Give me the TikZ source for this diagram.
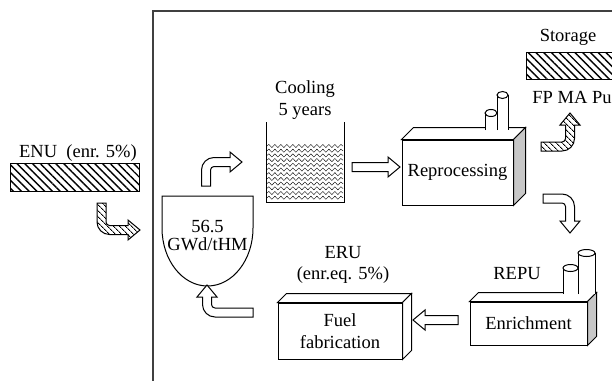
\documentclass[tikz,border=0pt]{standalone}
\usepackage{fontspec}
\setmainfont{Liberation Serif}
\usetikzlibrary{positioning,patterns.meta,decorations.pathmorphing}

\def\FontBig{\fontsize{18.5}{21.5}\selectfont}
% front face of a box given, draws top face and side face
\newcommand\Cuboid[3]{% #1 node, #2 depth, #3 side colour
	\draw[line width=1pt,fill=white] (#1.north west) -- ++(#2,-#2) -- ([shift={(#2,-#2)}]#1.north east) -- (#1.north east) -- cycle;
	\draw[line width=1pt,fill=#3] (#1.north east) -- ++(#2,-#2) -- ([shift={(#2,-#2)}]#1.south east) -- (#1.south east) -- cycle;
}
\newcommand\Chimney[4]{% x left, x right, top, base
	\draw[line width=1pt,fill=white] (#1,#4) -- (#1,#3) -- (#2,#3) -- (#2,#4);
	\draw[line width=1pt,fill=white] ({(#1+#2)/2},#3) ellipse [x radius={(#2-#1)/2}, y radius=3.5];
}

\tikzset{
	txt/.style={align=center, inner sep=0pt, font=\FontBig},
	front/.style={txt, draw=black, line width=1pt, fill=white},
	hatched/.style={draw=black, line width=1pt, inner sep=0pt,
		pattern={Lines[angle=-45,distance=5.5pt,line width=1.4pt]}},
	whitearrow/.style={draw=black, line width=1pt, fill=white},
	hatcharrow/.style={draw=black, line width=1pt,
		pattern={Lines[angle=-45,distance=4pt,line width=1pt]}},
	% #1 length to the bend, #2 length after the bend (head included)
	pics/bendarrow/.style 2 args={code={
		\pgfmathsetmacro\hh{#1-8}
		\pgfmathsetmacro\LL{#2-12}
		\path[pic actions] (-4.5,0) -- (-4.5,-\hh)
			.. controls (-4.5,-\hh-6.9) and (1.1,-#1-4.5) .. (8,-#1-4.5)
			-- (\LL,-#1-4.5) -- (\LL,-#1-10) -- (#2,-#1) -- (\LL,-#1+10) -- (\LL,-#1+4.5)
			-- (8,-#1+4.5) .. controls (6.07,-#1+4.5) and (4.5,-\hh-1.93) .. (4.5,-\hh)
			-- (4.5,0) -- cycle;
	}},
	pics/straightarrow/.style={code={
		\path[pic actions] (0,-4.5) -- (#1-12,-4.5) -- (#1-12,-10) -- (#1,0)
			-- (#1-12,10) -- (#1-12,4.5) -- (0,4.5) -- cycle;
	}}
}

\begin{document}
\begin{tikzpicture}[x=1pt,y=-1pt]
	\useasboundingbox (0,0) rectangle (612,380);
	\fill[white] (0,0) rectangle (612,380);
	\clip (0,0) rectangle (612,380);

	% frame of the cycle
	\draw[line width=1.3pt,black!75] (153,395) -- (153,11) -- (630,11);

	% natural uranium in
	\node[txt] (enu) at (78,153) {ENU\ \ (enr. 5\%)};
	\node[hatched, minimum width=129pt, minimum height=28pt] (enubar) at (74.5,177) {};
	\pic[hatcharrow, yscale=-1] at (101.5,203) {bendarrow={27}{38.5}};

	% reactor
	\draw[line width=1pt,fill=white] (162,196) -- (162,228)
		arc[start angle=180, end angle=0, x radius=45.5, y radius=58] -- (253,196) -- cycle;
	\node[txt, font=\fontsize{18.5}{18}\selectfont] (reactor) at (207.5,236) {56.5\\GWd/tHM};
	\pic[whitearrow] at (206,186) {bendarrow={24}{36}};

	% cooling pool
	\node[txt] (cooling) at (305,100) {Cooling\\5 years};
	\foreach \y in {146,150.7,...,199}
		\draw[decorate, decoration={snake, segment length=6pt, amplitude=1.6pt}] (267,\y) -- (343,\y);
	\draw[line width=1pt] (266,122) -- (266,202) -- (344,202) -- (344,122);
	\pic[whitearrow] at (352,167) {straightarrow=48};

	% reprocessing
	\node[front, minimum width=111pt, minimum height=65pt] (repro) at (457.5,172.5) {Reprocessing};
	\Cuboid{repro}{12}{black!22}
	\Chimney{497}{508}{95}{130}
	\Chimney{485}{497}{113}{130}

	% storage of waste
	\node[txt] (storage) at (568,37) {Storage};
	\node[hatched, minimum width=100pt, minimum height=27pt] (storebar) at (576,65.5) {};
	\node[txt] (fpmapu) at (572,97) {FP MA Pu};
	\pic[hatcharrow, cm={0,1,1,0,(0,0)}] at (541,146.5) {bendarrow={29}{33.5}};

	% enrichment
	\pic[whitearrow, rotate=-90] at (543,198.5) {bendarrow={27}{34.5}};
	\node[txt] (repu) at (517,274) {REPU};
	\node[front, minimum width=117pt, minimum height=43pt] (enrich) at (528.5,323.5) {Enrichment};
	\Cuboid{enrich}{9}{black!22}
	\Chimney{578}{595}{253}{294}
	\Chimney{563}{578}{268}{294}
	\pic[whitearrow, xscale=-1] at (458,320) {straightarrow=45};

	% fuel fabrication
	\node[txt] (eru) at (343,265) {ERU\\(enr.eq. 5\%)};
	\node[front, minimum width=124pt, minimum height=56pt] (fuelfab) at (340,331) {Fuel\\fabrication};
	\Cuboid{fuelfab}{9}{white}
	\pic[whitearrow, rotate=90] at (253,312.5) {bendarrow={46}{27.5}};
\end{tikzpicture}
\end{document}
